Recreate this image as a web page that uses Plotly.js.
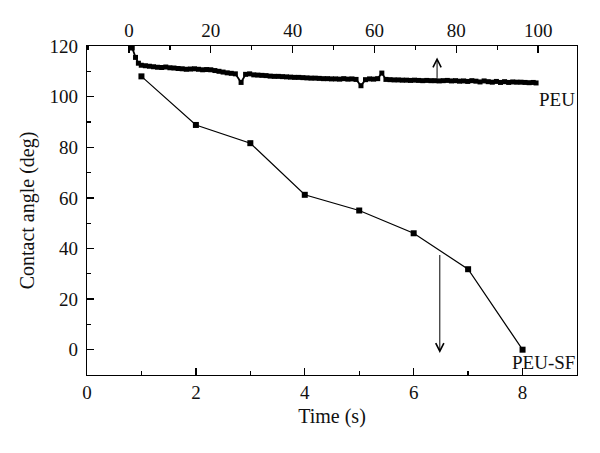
<!DOCTYPE html>
<html>
<head>
<meta charset="utf-8">
<script src="https://cdn.plot.ly/plotly-3.0.1.min.js"></script>
<style>html,body{margin:0;padding:0;background:#fff;}#chart{width:600px;height:453px;}</style>
</head>
<body>
<div id="chart"></div>
<script>
// PEU-SF series (bottom axis: Time, s)
const sfTime = [1, 2, 3, 4, 5, 6, 7, 8];
const sfAngle = [108, 88.8, 81.6, 61.2, 55.0, 46.0, 31.8, 0];

// PEU series (top axis)
const peuTime = [
  0.8, 1.6, 2.3, 3, 4, 5, 6, 7, 8, 9,
  10, 11, 12, 13, 14, 15, 16, 17, 18, 19,
  20, 21, 22, 23, 24, 25, 26, 27.4, 28.5, 29.5,
  30.5, 31.5, 32.5, 33.5, 34.5, 35.5, 36.5, 37.5, 38.5, 39.5,
  40.5, 41.5, 42.5, 43.5, 44.5, 45.5, 46.5, 47.5, 48.5, 49.5,
  50.5, 51.5, 52.5, 53.5, 54.5, 55.5, 56.7, 57.8, 58.8, 59.8,
  60.8, 61.8, 62.8, 63.8, 64.8, 65.8, 66.8, 67.8, 68.8, 69.8,
  70.8, 71.8, 72.8, 73.8, 74.8, 75.8, 76.8, 77.8, 78.8, 79.8,
  80.8, 81.8, 82.8, 83.8, 84.8, 85.8, 86.8, 87.8, 88.8, 89.8,
  90.8, 91.8, 92.8, 93.8, 94.8, 95.8, 96.8, 97.8, 98.8, 99.5
];
const peuAngle = [
  119.2, 115.5, 113.2, 112.4, 112.2, 112.0, 111.8, 111.6, 111.5, 111.7,
  111.4, 111.3, 111.1, 111.0, 110.8, 110.9, 111.0, 110.8, 110.6, 110.7,
  110.6, 110.3, 110.0, 109.7, 109.4, 109.2, 109.0, 105.6, 108.8, 109.0,
  108.6, 108.5, 108.4, 108.3, 108.1, 108.0, 108.0, 107.9, 107.8, 107.7,
  107.6, 107.6, 107.5, 107.4, 107.3, 107.3, 107.2, 107.1, 107.1, 107.0,
  107.0, 106.9, 107.1, 106.9, 107.0, 106.8, 104.3, 106.7, 107.0, 106.9,
  107.1, 109.3, 106.8, 106.7, 106.6, 106.6, 106.5, 106.5, 106.4, 106.5,
  106.4, 106.3, 106.4, 106.3, 106.3, 106.2, 106.3, 106.4, 106.2, 106.3,
  106.1, 106.2, 106.0, 106.3, 106.1, 105.8, 106.2, 105.9, 105.7, 106.0,
  105.6, 105.9, 105.6, 105.8, 105.7, 105.7, 105.6, 105.5, 105.6, 105.4
];

const xTicks = [0, 2, 4, 6, 8];
const x2Ticks = [0, 20, 40, 60, 80, 100];
const yTicks = [0, 20, 40, 60, 80, 100, 120];

const FONT = 'Liberation Serif, Times New Roman, serif';

const traces = [
  {
    x: peuTime, y: peuAngle, xaxis: 'x2', yaxis: 'y',
    mode: 'lines+markers', type: 'scatter',
    line: {color: '#000', width: 1.8},
    marker: {symbol: 'square', size: 5, color: '#000'},
    hoverinfo: 'skip'
  },
  {
    x: sfTime, y: sfAngle, xaxis: 'x', yaxis: 'y',
    mode: 'lines+markers', type: 'scatter',
    line: {color: '#000', width: 1.2},
    marker: {symbol: 'square', size: 6, color: '#000'},
    hoverinfo: 'skip'
  }
];

const axisCommon = {
  showgrid: false, zeroline: false, showline: true,
  linecolor: '#000', linewidth: 1.3,
  ticks: 'inside', ticklen: 7, tickwidth: 1.3, tickcolor: '#000',
  tickfont: {family: FONT, size: 19, color: '#111'}
};

const layout = {
  width: 600, height: 453,
  margin: {l: 87, r: 23, t: 46, b: 78},
  paper_bgcolor: '#fff', plot_bgcolor: '#fff',
  showlegend: false,
  font: {family: FONT, color: '#111'},
  xaxis: Object.assign({}, axisCommon, {
    range: [0, 9], tickvals: xTicks, ticktext: xTicks.map(String),
    minor: {dtick: 1, tick0: 0, ticks: 'inside', ticklen: 4, tickwidth: 1.3, tickcolor: '#000'},
    mirror: false,
    title: {text: 'Time (s)', font: {family: FONT, size: 20, color: '#111'}, standoff: 7}
  }),
  xaxis2: Object.assign({}, axisCommon, {
    overlaying: 'x', side: 'top', anchor: 'y',
    range: [-10.26, 109.5], tickvals: x2Ticks, ticktext: x2Ticks.map(String),
    minor: {dtick: 10, tick0: 0, ticks: 'inside', ticklen: 4, tickwidth: 1.3, tickcolor: '#000'}
  }),
  yaxis: Object.assign({}, axisCommon, {
    range: [-10, 120], tickvals: yTicks, ticktext: yTicks.map(String),
    minor: {dtick: 10, tick0: 0, ticks: 'inside', ticklen: 4, tickwidth: 1.3, tickcolor: '#000'},
    mirror: true, ticklabelstandoff: 4,
    title: {text: 'Contact angle (deg)', font: {family: FONT, size: 20, color: '#111'}, standoff: 9}
  }),
  annotations: [
    {
      xref: 'x2', yref: 'y', axref: 'x2', ayref: 'y',
      x: 75.3, y: 115.5, ax: 75.3, ay: 106.8,
      text: '', showarrow: true, arrowhead: 5, arrowsize: 1.6, arrowwidth: 1, arrowcolor: '#000'
    },
    {
      xref: 'x', yref: 'y', axref: 'x', ayref: 'y',
      x: 6.48, y: -1.3, ax: 6.48, ay: 38,
      text: '', showarrow: true, arrowhead: 5, arrowsize: 1.6, arrowwidth: 1, arrowcolor: '#000'
    },
    {
      xref: 'paper', yref: 'y', x: 1, y: 99, xanchor: 'right', yanchor: 'middle',
      text: 'PEU', showarrow: false, font: {family: FONT, size: 19, color: '#111'}
    },
    {
      xref: 'paper', yref: 'y', x: 1, y: -5, xanchor: 'right', yanchor: 'middle',
      text: 'PEU-SF', showarrow: false, font: {family: FONT, size: 19, color: '#111'}
    }
  ]
};

Plotly.newPlot('chart', traces, layout, {displayModeBar: false, staticPlot: true});
</script>
</body>
</html>
